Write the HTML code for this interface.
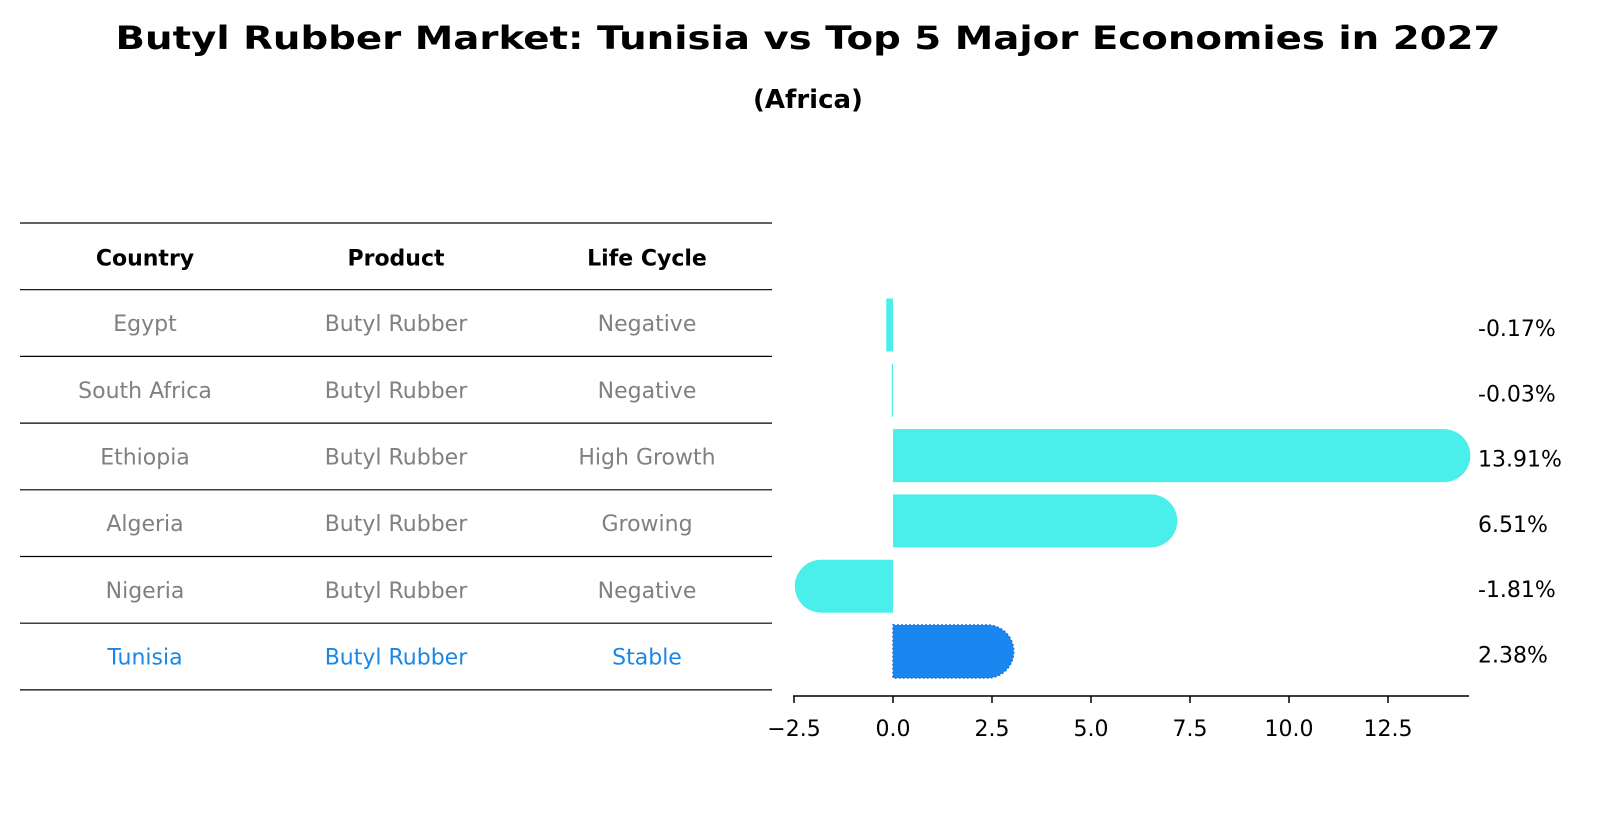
<!DOCTYPE html>
<html><head><meta charset="utf-8"><style>
body{margin:0;background:#fff}
svg text{font-family:"DejaVu Sans","Liberation Sans",sans-serif}
</style></head><body>
<svg width="1604" height="823" viewBox="0 0 1604 823" xmlns="http://www.w3.org/2000/svg">
<text x="808" y="49" text-anchor="middle" font-size="32" font-weight="bold" textLength="1385" lengthAdjust="spacingAndGlyphs">Butyl Rubber Market: Tunisia vs Top 5 Major Economies in 2027</text>
<text x="808" y="108" text-anchor="middle" font-size="26" font-weight="bold">(Africa)</text>
<g id="table"></g>
<g id="bars"></g>
</svg>
<script>
const countries=["Egypt","South Africa","Ethiopia","Algeria","Nigeria","Tunisia"];
const products=["Butyl Rubber","Butyl Rubber","Butyl Rubber","Butyl Rubber","Butyl Rubber","Butyl Rubber"];
const lifecycles=["Negative","Negative","High Growth","Growing","Negative","Stable"];
const values=[-0.17,-0.03,13.91,6.51,-1.81,2.38];
const valueLabels=["-0.17%","-0.03%","13.91%","6.51%","-1.81%","2.38%"];
const tickValues=[-2.5,0,2.5,5,7.5,10,12.5];
const tickLabels=["\u22122.5","0.0","2.5","5.0","7.5","10.0","12.5"];
const NS="http://www.w3.org/2000/svg";
function mk(tag,attrs,parent){const e=document.createElementNS(NS,tag);for(const k in attrs)e.setAttribute(k,attrs[k]);parent.appendChild(e);return e;}
const tbl=document.getElementById('table');
const tableTop=223,rowH=66.7,colX=[145,396,647];
for(let i=0;i<8;i++){
  const l=mk('line',{x1:20,x2:772,y1:tableTop+i*rowH,y2:tableTop+i*rowH,stroke:'#000','stroke-width':1.2},tbl);
  
  
}
const heads=["Country","Product","Life Cycle"];
heads.forEach((h,j)=>{
  const t=mk('text',{x:colX[j],y:tableTop+rowH/2+9,'text-anchor':'middle','font-size':22,'font-weight':'bold'},tbl);
  t.textContent=h;
  
  
});
countries.forEach((c,i)=>{
  const y=tableTop+rowH*(i+1)+rowH/2+8;
  const col=c==="Tunisia"?"#1a87e6":"#808080";
  [c,products[i],lifecycles[i]].forEach((v,j)=>{
    const t=mk('text',{x:colX[j],y:y,'text-anchor':'middle','font-size':22,fill:col},tbl);
    t.textContent=v;
    
    
  });
});
const g=document.getElementById('bars');
const x0=893,scale=39.6;
const X=v=>x0+v*scale;
const rowY0=325,rowStep=65.3,barH=53,r=26.5;
const Y=i=>rowY0+i*rowStep;
values.forEach((v,i)=>{
  const cy=Y(i),x=X(v),fill=countries[i]==="Tunisia"?"#1a87f0":"#4aeeea";
  const w=Math.abs(x-x0);
  let d;
  if(w>10){
    const s=v>=0?1:-1;
    d=`M${x0},${cy-barH/2} L${x},${cy-barH/2} A${r},${r} 0 0 ${s>0?1:0} ${x},${cy+barH/2} L${x0},${cy+barH/2} Z`;
  }else{
    const a=Math.min(x,x0),b=Math.max(x,x0)+(w<1?1:0);
    d=`M${a},${cy-barH/2} L${b},${cy-barH/2} L${b},${cy+barH/2} L${a},${cy+barH/2} Z`;
  }
  const p=mk('path',{d:d,fill:fill},g);
  if(countries[i]==="Tunisia"){p.setAttribute('stroke','#1f6fd6');p.setAttribute('stroke-dasharray','2 2');p.setAttribute('stroke-width','1.5');}
  
  
  const t=mk('text',{x:1478,y:cy+11,'font-size':22},g);
  t.textContent=valueLabels[i];
  
  
});
const ax=mk('line',{x1:793,x2:1469,y1:696,y2:696,stroke:'#000','stroke-width':1.5},g);


tickValues.forEach((v,i)=>{
  const tk=mk('line',{x1:X(v),x2:X(v),y1:696,y2:703,stroke:'#000','stroke-width':1.5},g);
  
  
  const t=mk('text',{x:X(v),y:736,'text-anchor':'middle','font-size':22},g);
  t.textContent=tickLabels[i];
  
  
});
</script>
</body></html>
